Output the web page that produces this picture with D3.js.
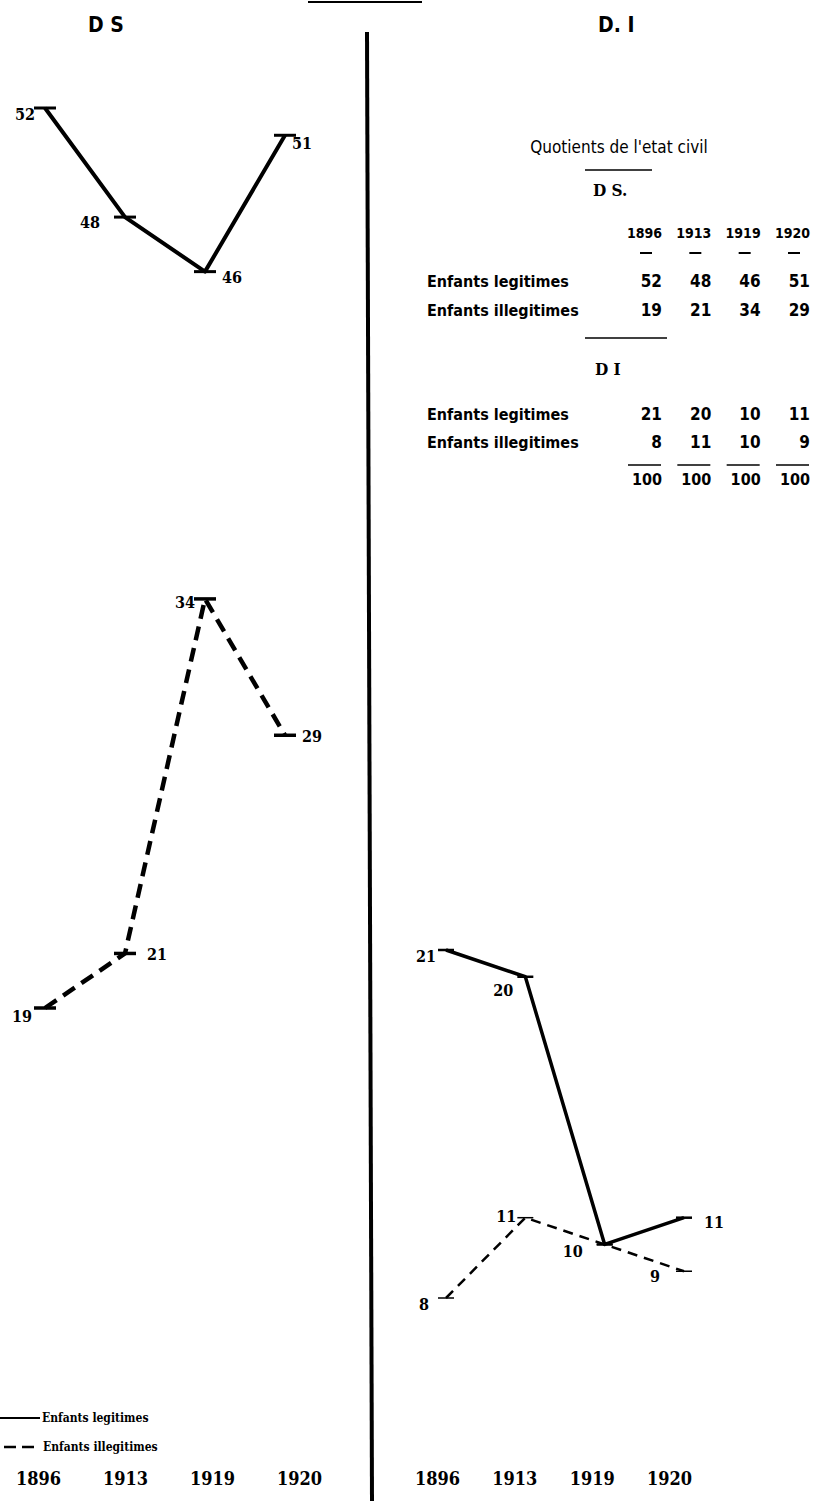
<!DOCTYPE html>
<html>
<head>
<meta charset="utf-8">
<script src="https://cdn.jsdelivr.net/npm/d3@7"></script>
<style>
  body { margin: 0; background: #fff; }
  svg { display: block; }
  .num { font-family: "DejaVu Serif Condensed", "Liberation Serif", serif; font-weight: bold; }
  .narrow { font-family: "Liberation Sans Narrow", "DejaVu Sans Condensed", sans-serif; }
</style>
</head>
<body>
<script>
var w = 816;
var h = 1501;

// data
var years = ["1896", "1913", "1919", "1920"];
var dsLegit = [52, 48, 46, 51];
var dsIllegit = [19, 21, 34, 29];
var diLegit = [21, 20, 10, 11];
var diIllegit = [8, 11, 10, 9];
var totals = [100, 100, 100, 100];
var rowLabels = ["Enfants legitimes", "Enfants illegitimes"];
var panelTitles = ["D S", "D. I"];
var tableTitle = "Quotients de l'etat civil";
var tableSections = ["D S.", "D I"];

// label placement (dx, dy, anchor) for the value next to each point
var dsLegitLab = [[-10, 12, "end"], [-25, 11, "end"], [17, 11, "start"], [7, 14, "start"]];
var dsIllegitLab = [[-13, 14, "end"], [22, 7, "start"], [-10, 9, "end"], [17, 7, "start"]];
var diLegitLab = [[-10, 12, "end"], [-12, 19, "end"], [-22, 13, "end"], [20, 10, "start"]];
var diIllegitLab = [[-17, 12, "end"], [-9, 4, "end"], null, [-24, 11, "end"]];

var svg = d3.select("body").append("svg")
    .attr("width", w)
    .attr("height", h);

svg.append("rect").attr("width", w).attr("height", h).attr("fill", "#fff");

// top rule and divider
svg.append("line")
  .attr("x1", 308).attr("x2", 422).attr("y1", 2).attr("y2", 2)
  .attr("stroke", "#000").attr("stroke-width", 2);
svg.append("line")
  .attr("x1", 367).attr("x2", 372).attr("y1", 32).attr("y2", h)
  .attr("stroke", "#000").attr("stroke-width", 4);

// panel titles
svg.append("text").attr("class", "narrow")
  .attr("x", 88).attr("y", 32)
  .attr("font-size", 21).attr("font-weight", "bold")
  .text(panelTitles[0]);
svg.append("text").attr("class", "narrow")
  .attr("x", 598).attr("y", 32)
  .attr("font-size", 21).attr("font-weight", "bold")
  .text(panelTitles[1]);

// scales
var xL = d3.scalePoint().domain(years).range([45, 285]);
var yL = d3.scaleLinear().domain([19, 52]).range([1008, 108]);
var xR = d3.scalePoint().domain(years).range([446, 684]);
var yR = d3.scaleLinear().domain([8, 21]).range([1298, 950]);

function drawSeries(values, x, y, opts, labs) {
  var pts = values.map(function(v, i) { return { year: years[i], value: v, lab: labs[i] }; });
  var line = d3.line()
    .x(function(d) { return x(d.year); })
    .y(function(d) { return y(d.value); });

  svg.append("path")
    .attr("d", line(pts))
    .attr("fill", "none")
    .attr("stroke", "#000")
    .attr("stroke-width", opts.width)
    .attr("stroke-linejoin", "round")
    .attr("stroke-dasharray", opts.dash || null);

  svg.selectAll(null).data(pts).enter().append("line")
    .attr("x1", function(d) { return x(d.year) - opts.tick / 2; })
    .attr("x2", function(d) { return x(d.year) + opts.tick / 2; })
    .attr("y1", function(d) { return y(d.value); })
    .attr("y2", function(d) { return y(d.value); })
    .attr("stroke", "#000")
    .attr("stroke-width", opts.width - 1);

  svg.selectAll(null).data(pts.filter(function(d) { return d.lab; })).enter().append("text")
    .attr("class", "num")
    .attr("font-size", 16)
    .attr("x", function(d) { return x(d.year) + d.lab[0]; })
    .attr("y", function(d) { return y(d.value) + d.lab[1]; })
    .attr("text-anchor", function(d) { return d.lab[2]; })
    .text(function(d) { return d.value; });
}

drawSeries(dsLegit, xL, yL, { width: 4, tick: 22 }, dsLegitLab);
drawSeries(dsIllegit, xL, yL, { width: 4.5, tick: 22, dash: "14,8" }, dsIllegitLab);
drawSeries(diLegit, xR, yR, { width: 3.5, tick: 16 }, diLegitLab);
drawSeries(diIllegit, xR, yR, { width: 2.5, tick: 16, dash: "10,7" }, diIllegitLab);

// bottom year labels
var axL = d3.scalePoint().domain(years).range([38, 299]);
var axR = d3.scalePoint().domain(years).range([437, 669]);
[axL, axR].forEach(function(sc) {
  var g = svg.append("g")
    .attr("transform", "translate(0,1472)")
    .call(d3.axisBottom(sc).tickSize(0).tickPadding(0));
  g.select(".domain").remove();
  g.selectAll("text")
    .attr("class", "num")
    .attr("font-size", 18)
    .attr("fill", "#000");
});

// legend
var leg = svg.append("g");
leg.append("line").attr("x1", 0).attr("x2", 40).attr("y1", 1418).attr("y2", 1418)
  .attr("stroke", "#000").attr("stroke-width", 2);
leg.append("line").attr("x1", 4).attr("x2", 40).attr("y1", 1447).attr("y2", 1447)
  .attr("stroke", "#000").attr("stroke-width", 2.5).attr("stroke-dasharray", "12,6");
leg.selectAll(null).data(rowLabels).enter().append("text")
  .attr("class", "num")
  .attr("font-size", 12)
  .attr("x", function(d, i) { return 42 + i; })
  .attr("y", function(d, i) { return 1422 + i * 29; })
  .text(function(d) { return d; });

// table
var tab = svg.append("g");
var colX = d3.scalePoint().domain(years).range([662, 810]);

tab.append("text").attr("class", "narrow")
  .attr("x", 619).attr("y", 153).attr("text-anchor", "middle")
  .attr("font-size", 17).attr("font-weight", 500)
  .text(tableTitle);
tab.append("line").attr("x1", 585).attr("x2", 652).attr("y1", 170).attr("y2", 170)
  .attr("stroke", "#000").attr("stroke-width", 1.5);

tab.append("text").attr("class", "num")
  .attr("x", 593).attr("y", 196).attr("font-size", 17)
  .text(tableSections[0]);

tab.selectAll(null).data(years).enter().append("text")
  .attr("class", "narrow")
  .attr("font-weight", "bold").attr("font-size", 14)
  .attr("x", function(d) { return colX(d); })
  .attr("y", 238).attr("text-anchor", "end")
  .text(function(d) { return d; });
tab.selectAll(null).data(years).enter().append("line")
  .attr("x1", function(d) { return colX(d) - 22; })
  .attr("x2", function(d) { return colX(d) - 10; })
  .attr("y1", 253).attr("y2", 253)
  .attr("stroke", "#000").attr("stroke-width", 2);

function tableRow(label, values, yPos) {
  tab.append("text").attr("class", "narrow")
    .attr("x", 427).attr("y", yPos)
    .attr("font-size", 16).attr("font-weight", "bold")
    .text(label);
  tab.selectAll(null).data(values).enter().append("text")
    .attr("class", "narrow")
    .attr("font-size", 17).attr("font-weight", "bold")
    .attr("x", function(d, i) { return colX(years[i]); })
    .attr("y", yPos).attr("text-anchor", "end")
    .text(function(d) { return d; });
}

tableRow(rowLabels[0], dsLegit, 287);
tableRow(rowLabels[1], dsIllegit, 316);

tab.append("line").attr("x1", 585).attr("x2", 667).attr("y1", 338).attr("y2", 338)
  .attr("stroke", "#000").attr("stroke-width", 1.5);
tab.append("text").attr("class", "num")
  .attr("x", 595).attr("y", 375).attr("font-size", 17)
  .text(tableSections[1]);

tableRow(rowLabels[0], diLegit, 420);
tableRow(rowLabels[1], diIllegit, 448);

tab.selectAll(null).data(years).enter().append("line")
  .attr("x1", function(d) { return colX(d) - 34; })
  .attr("x2", function(d) { return colX(d) - 1; })
  .attr("y1", 465).attr("y2", 465)
  .attr("stroke", "#000").attr("stroke-width", 1.5);

tab.selectAll(null).data(totals).enter().append("text")
  .attr("class", "narrow")
  .attr("font-size", 16).attr("font-weight", "bold")
  .attr("x", function(d, i) { return colX(years[i]); })
  .attr("y", 485).attr("text-anchor", "end")
  .text(function(d) { return d; });
</script>
</body>
</html>
